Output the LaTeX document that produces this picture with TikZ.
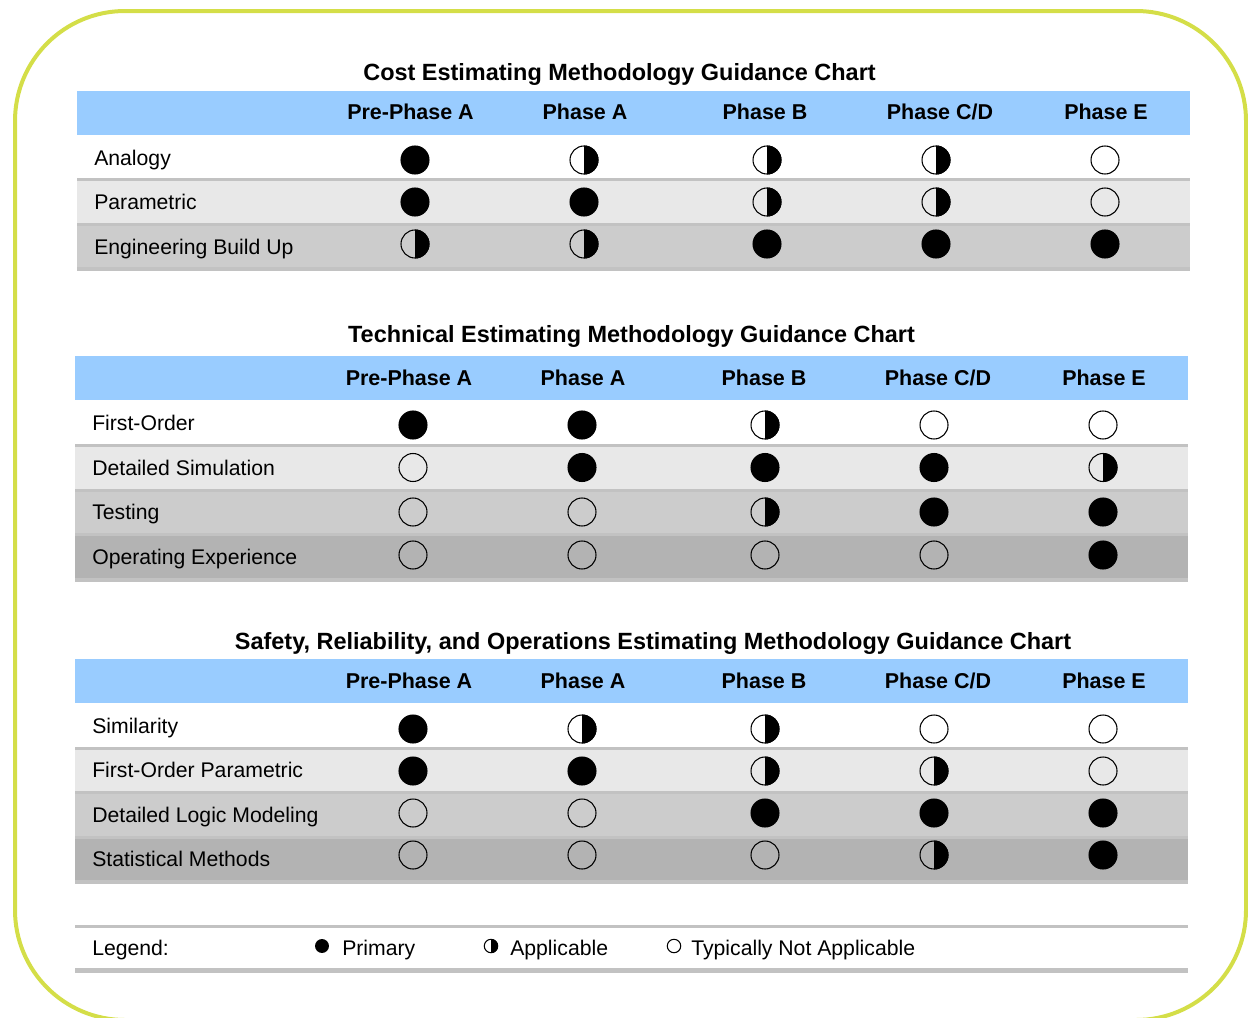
\documentclass[tikz,border=0pt]{standalone}
\usepackage{fontspec}
\setmainfont{Liberation Sans}
\definecolor{framec}{RGB}{212,222,72}
\definecolor{hdr}{RGB}{153,204,255}
\definecolor{rowA}{RGB}{232,232,232}
\definecolor{rowB}{RGB}{204,204,204}
\definecolor{rowC}{RGB}{179,179,179}
\definecolor{sepc}{RGB}{194,194,194}
\tikzset{
  txt/.style={font=\fontsize{15.9pt}{18pt}\selectfont, inner sep=0pt, anchor=base west},
  hd/.style={font=\fontsize{16.1pt}{18pt}\selectfont\bfseries, inner sep=0pt, anchor=base},
  ttl/.style={font=\fontsize{17.6pt}{20pt}\selectfont\bfseries, inner sep=0pt, anchor=base},
  mkF/.pic={\fill[black] (0pt,0pt) circle[radius=10.9pt];},
  mkO/.pic={\draw[black, line width=0.8pt] (0pt,0pt) circle[radius=10.5pt];},
  mkH/.pic={\fill[black] (0pt,-10.9pt) arc[start angle=-90,end angle=90,radius=10.9pt] -- cycle;
            \draw[black, line width=0.8pt] (0pt,0pt) circle[radius=10.5pt];},
  mkHw/.pic={\fill[white] (0pt,0pt) circle[radius=10.5pt];
            \fill[black] (0pt,-10.9pt) arc[start angle=-90,end angle=90,radius=10.9pt] -- cycle;
            \draw[black, line width=0.8pt] (0pt,0pt) circle[radius=10.5pt];},
  sepline/.style={draw=sepc, line width=2.25pt},
  botline/.style={draw=sepc, line width=3pt},
}
\begin{document}
\begin{tikzpicture}[x=0.75pt,y=-0.75pt]
\useasboundingbox (0,0) rectangle (1248,1017);
% frame
\draw[framec, line width=3pt, rounded corners=82.5pt] (15,11) rectangle (1246,1020);

% ---------- Table 1 ----------
\node[ttl] (t1title) at (619.5,80) {Cost Estimating Methodology Guidance Chart};
\fill[hdr] (77,91) rectangle (1190,135);
\fill[rowA] (77,180) rectangle (1190,224);
\fill[rowB] (77,224) rectangle (1190,269);
\draw[sepline] (77,179.5) -- (1190,179.5);
\draw[sepline] (77,224.5) -- (1190,224.5);
\draw[botline] (77,269) -- (1190,269);
\foreach \lab/\x [count=\i] in {Pre-Phase A/410.5, Phase A/585, Phase B/765, Phase C\slash D/940, Phase E/1106}
  \node[hd] (t1h\i) at (\x,119.5) {\lab};
\node[txt] (t1r1) at (94,165) {Analogy};
\node[txt] (t1r2) at (94,209.5) {Parametric};
\node[txt] (t1r3) at (94,254) {Engineering Build Up};
\foreach \t/\x in {F/415, Hw/584, Hw/767, Hw/936, O/1105} \pic at (\x,160) {mk\t};
\foreach \t/\x in {F/415, F/584, H/767, H/936, O/1105} \pic at (\x,202) {mk\t};
\foreach \t/\x in {H/415, H/584, F/767, F/936, F/1105} \pic at (\x,244) {mk\t};

% ---------- Table 2 ----------
\node[ttl] (t2title) at (631.5,342.5) {Technical Estimating Methodology Guidance Chart};
\fill[hdr] (75,356) rectangle (1188,400);
\fill[rowA] (75,445) rectangle (1188,490);
\fill[rowB] (75,490) rectangle (1188,534);
\fill[rowC] (75,534) rectangle (1188,579);
\draw[sepline] (75,445) -- (1188,445);
\draw[sepline] (75,490) -- (1188,490);
\draw[sepline] (75,534.5) -- (1188,534.5);
\draw[botline] (75,579.5) -- (1188,579.5);
\foreach \lab/\x [count=\i] in {Pre-Phase A/409, Phase A/583, Phase B/764, Phase C\slash D/938, Phase E/1104}
  \node[hd] (t2h\i) at (\x,385.5) {\lab};
\node[txt] (t2r1) at (92,430) {First-Order};
\node[txt] (t2r2) at (92,475) {Detailed Simulation};
\node[txt] (t2r3) at (92,519.5) {Testing};
\node[txt] (t2r4) at (92,564) {Operating Experience};
\foreach \t/\x in {F/413, F/582, Hw/765, O/934, O/1103} \pic at (\x,425) {mk\t};
\foreach \t/\x in {O/413, F/582, F/765, F/934, H/1103} \pic at (\x,467.5) {mk\t};
\foreach \t/\x in {O/413, O/582, H/765, F/934, F/1103} \pic at (\x,512) {mk\t};
\foreach \t/\x in {O/413, O/582, O/765, O/934, F/1103} \pic at (\x,555) {mk\t};

% ---------- Table 3 ----------
\node[ttl] (t3title) at (653,649.5) {Safety, Reliability, and Operations Estimating Methodology Guidance Chart};
\fill[hdr] (75,659) rectangle (1188,703);
\fill[rowA] (75,748) rectangle (1188,792);
\fill[rowB] (75,792) rectangle (1188,837);
\fill[rowC] (75,837) rectangle (1188,881);
\draw[sepline] (75,748) -- (1188,748);
\draw[sepline] (75,792.5) -- (1188,792.5);
\draw[sepline] (75,837) -- (1188,837);
\draw[botline] (75,881.5) -- (1188,881.5);
\foreach \lab/\x [count=\i] in {Pre-Phase A/409, Phase A/583, Phase B/764, Phase C\slash D/938, Phase E/1104}
  \node[hd] (t3h\i) at (\x,688.5) {\lab};
\node[txt] (t3r1) at (92,733) {Similarity};
\node[txt] (t3r2) at (92,777.5) {First-Order Parametric};
\node[txt] (t3r3) at (92,822) {Detailed Logic Modeling};
\node[txt] (t3r4) at (92,866.5) {Statistical Methods};
\foreach \t/\x in {F/413, Hw/582, Hw/765, O/934, O/1103} \pic at (\x,729) {mk\t};
\foreach \t/\x in {F/413, F/582, H/765, H/934, O/1103} \pic at (\x,771) {mk\t};
\foreach \t/\x in {O/413, O/582, F/765, F/934, F/1103} \pic at (\x,813) {mk\t};
\foreach \t/\x in {O/413, O/582, O/765, H/934, F/1103} \pic at (\x,855) {mk\t};

% ---------- Legend ----------
\draw[sepline] (75,926.5) -- (1188,926.5);
\draw[draw=sepc, line width=3.75pt] (75,970) -- (1188,970);
\node[txt] (leg) at (92,955.5) {Legend:};
\pic[scale=0.48] at (322,946) {mkF};
\pic[scale=0.48] at (491,946) {mkHw};
\pic[scale=0.48] at (674,946) {mkO};
\node[txt] (legF) at (342,955.5) {Primary};
\node[txt] (legH) at (510,955.5) {Applicable};
\node[txt] (legO) at (691,955.5) {Typically Not Applicable};
\end{tikzpicture}
\end{document}
